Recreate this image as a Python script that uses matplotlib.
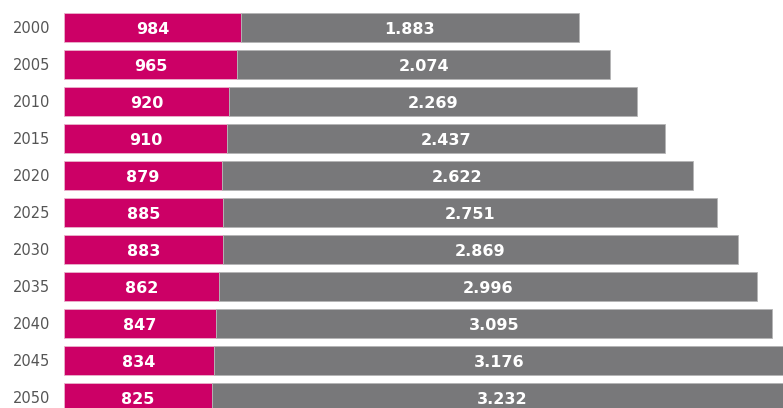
import matplotlib
matplotlib.use('Agg')
import matplotlib.pyplot as plt
import numpy as np

plt.rcParams['font.family'] = ['DejaVu Sans']

years = ['2000', '2005', '2010', '2015', '2020', '2025', '2030', '2035', '2040', '2045', '2050']
pink_values = [984, 965, 920, 910, 879, 885, 883, 862, 847, 834, 825]
gray_values = [1883, 2074, 2269, 2437, 2622, 2751, 2869, 2996, 3095, 3176, 3232]

PINK = '#cc0066'
GRAY = '#78787a'


def fmt(v):
    # thousands separator as a dot
    return f'{v:,}'.replace(',', '.')


fig = plt.figure(figsize=(7.83, 4.08), dpi=100)
ax = fig.add_axes([64 / 783, 0, 1 - 64 / 783, 1])

y = np.arange(len(years))
h = 29 / 37
ax.barh(y, pink_values, height=h, color=PINK, edgecolor='#e9b3cc', linewidth=0.6)
ax.barh(y, gray_values, left=pink_values, height=h, color=GRAY,
        edgecolor='#b5b5b5', linewidth=0.6)

for i, (p, g) in enumerate(zip(pink_values, gray_values)):
    ax.text(p / 2, i + 0.05, fmt(p), ha='center', va='center', color='white',
            fontsize=11.5, fontweight='bold')
    ax.text(p + g / 2, i + 0.05, fmt(g), ha='center', va='center', color='white',
            fontsize=11.5, fontweight='bold')

ax.set_xlim(0, 4003)
ax.set_ylim(10.284, -0.743)
ax.set_yticks(y)
ax.set_yticklabels(years, fontsize=10.5, color='#555555')
ax.tick_params(axis='y', length=0, pad=10)
ax.set_xticks([])
for s in ax.spines.values():
    s.set_visible(False)

fig.savefig('out.png', dpi=100)
